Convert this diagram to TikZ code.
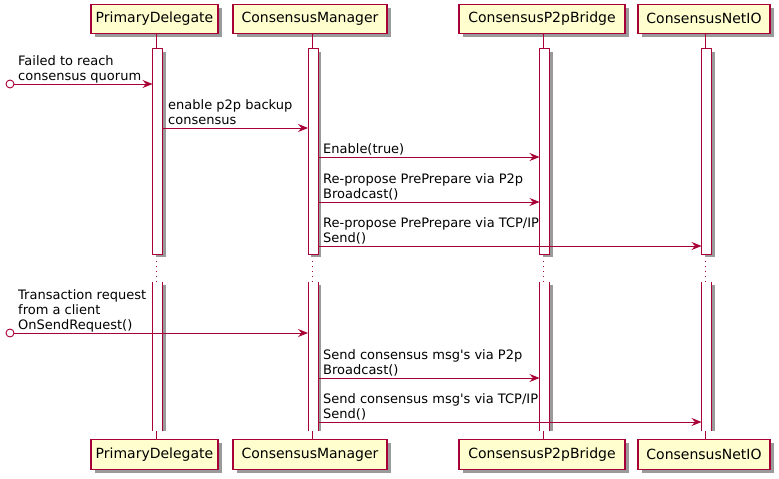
\documentclass[tikz,border=0pt]{standalone}
\usepackage{fontspec}
\setmainfont{DejaVu Sans}
\usetikzlibrary{arrows.meta,shadows}
\definecolor{pumlred}{HTML}{A80036}
\definecolor{pumlfill}{HTML}{FEFECE}
\definecolor{shadowgray}{HTML}{9A9A9A}
\begin{document}
\begin{tikzpicture}[x=1pt,y=-1pt,
  part/.style={draw=pumlred, fill=pumlfill, line width=1.1pt, minimum height=29.5pt,
    inner sep=0pt, anchor=north, font=\fontsize{14}{16}\selectfont,
    drop shadow={shadow xshift=3.5pt, shadow yshift=-3.5pt, fill=shadowgray, opacity=1}},
  msg/.style={draw=pumlred, line width=0.9pt, -{Stealth[length=10pt,width=8pt,inset=3.5pt]}},
  lbl/.style={anchor=south west, inner sep=0pt, align=left, font=\fontsize{13}{15}\selectfont},
  life/.style={draw=pumlred, line width=0.9pt},
  dots/.style={draw=pumlred, line width=0.9pt, dash pattern=on 1pt off 4pt},
  bar/.style={draw=pumlred, fill=white, line width=0.9pt},
  barshadow/.style={fill=shadowgray},
  startc/.style={draw=pumlred, fill=white, line width=0.9pt}
]
\useasboundingbox (0,0) rectangle (779,479);
\fill[white] (0,0) rectangle (779,479);

% lifeline x positions
\def\xa{156.5}\def\xb{312}\def\xc{543.5}\def\xd{705.5}

% participants
\node[part, minimum width=127pt] (pdT) at (154.5,3.5) {PrimaryDelegate};
\node[part, minimum width=154pt] (cmT) at (310,3.5) {ConsensusManager};
\node[part, minimum width=166pt] (pbT) at (542,3.5) {ConsensusP2pBridge};
\node[part, minimum width=132pt] (niT) at (704,3.5) {ConsensusNetIO};
\node[part, minimum width=127pt] (pdB) at (154.5,439) {PrimaryDelegate};
\node[part, minimum width=154pt] (cmB) at (310,439) {ConsensusManager};
\node[part, minimum width=166pt] (pbB) at (542,439) {ConsensusP2pBridge};
\node[part, minimum width=132pt] (niB) at (704,439) {ConsensusNetIO};

% lifeline stubs and delays
\foreach \x/\t/\b in {\xa/pdT/pdB, \xb/cmT/cmB, \xc/pbT/pbB, \xd/niT/niB}{
  \draw[life] (\x,33) -- (\x,48.5);
  \draw[dots] (\x,256) -- (\x,282);
  \draw[life] (\x,431) -- (\x,439);
}

% activation bars: section 1
\foreach \x in {\xa,\xb,\xc,\xd}{
  \fill[barshadow] (\x-4+3,48.5+3) rectangle (\x+6+3,254+3);
  \draw[bar] (\x-4,48.5) rectangle (\x+6,254);
}
% activation bars: section 2 (open ends)
\foreach \x in {\xa,\xb,\xc,\xd}{
  \fill[barshadow] (\x-4+3,285) rectangle (\x+6+3,431);
  \fill[white] (\x-4,282) rectangle (\x+6,431);
  \draw[life] (\x-4,282) -- (\x-4,431);
  \draw[life] (\x+6,282) -- (\x+6,431);
}

% message end points
\coordinate (s1) at (10,84);   \coordinate (e1) at (\xa-4,84);
\coordinate (s2) at (\xa+6,128); \coordinate (e2) at (\xb-4,128);
\coordinate (s3) at (\xb+6,157); \coordinate (e3) at (\xc-4,157);
\coordinate (s4) at (\xb+6,202); \coordinate (e4) at (\xc-4,202);
\coordinate (s5) at (\xb+6,246); \coordinate (e5) at (\xd-4,246);
\coordinate (s6) at (10,333);  \coordinate (e6) at (\xb-4,333);
\coordinate (s7) at (\xb+6,378); \coordinate (e7) at (\xc-4,378);
\coordinate (s8) at (\xb+6,422); \coordinate (e8) at (\xd-4,422);

% messages
\draw[msg] ([xshift=4pt]s1) -- (e1);
\draw[startc] (s1) circle[radius=4];
\draw[msg] (s2) -- (e2);
\draw[msg] (s3) -- (e3);
\draw[msg] (s4) -- (e4);
\draw[msg] (s5) -- (e5);
\draw[msg] ([xshift=4pt]s6) -- (e6);
\draw[startc] (s6) circle[radius=4];
\draw[msg] (s7) -- (e7);
\draw[msg] (s8) -- (e8);

% labels
\node[lbl] (l1) at (18,85) {Failed to reach\\consensus quorum\strut};
\node[lbl] (l2) at (168,129) {enable p2p backup\\consensus\strut};
\node[lbl] (l3) at (323,158) {Enable(true)\strut};
\node[lbl] (l4) at (323,203) {Re-propose PrePrepare via P2p\\Broadcast()\strut};
\node[lbl] (l5) at (323,247) {Re-propose PrePrepare via TCP/IP\\Send()\strut};
\node[lbl] (l6) at (18,334) {Transaction request\\from a client\\OnSendRequest()\strut};
\node[lbl] (l7) at (323,379) {Send consensus msg\textquotesingle s via P2p\\Broadcast()\strut};
\node[lbl] (l8) at (323,423) {Send consensus msg\textquotesingle s via TCP/IP\\Send()\strut};
\end{tikzpicture}
\end{document}
